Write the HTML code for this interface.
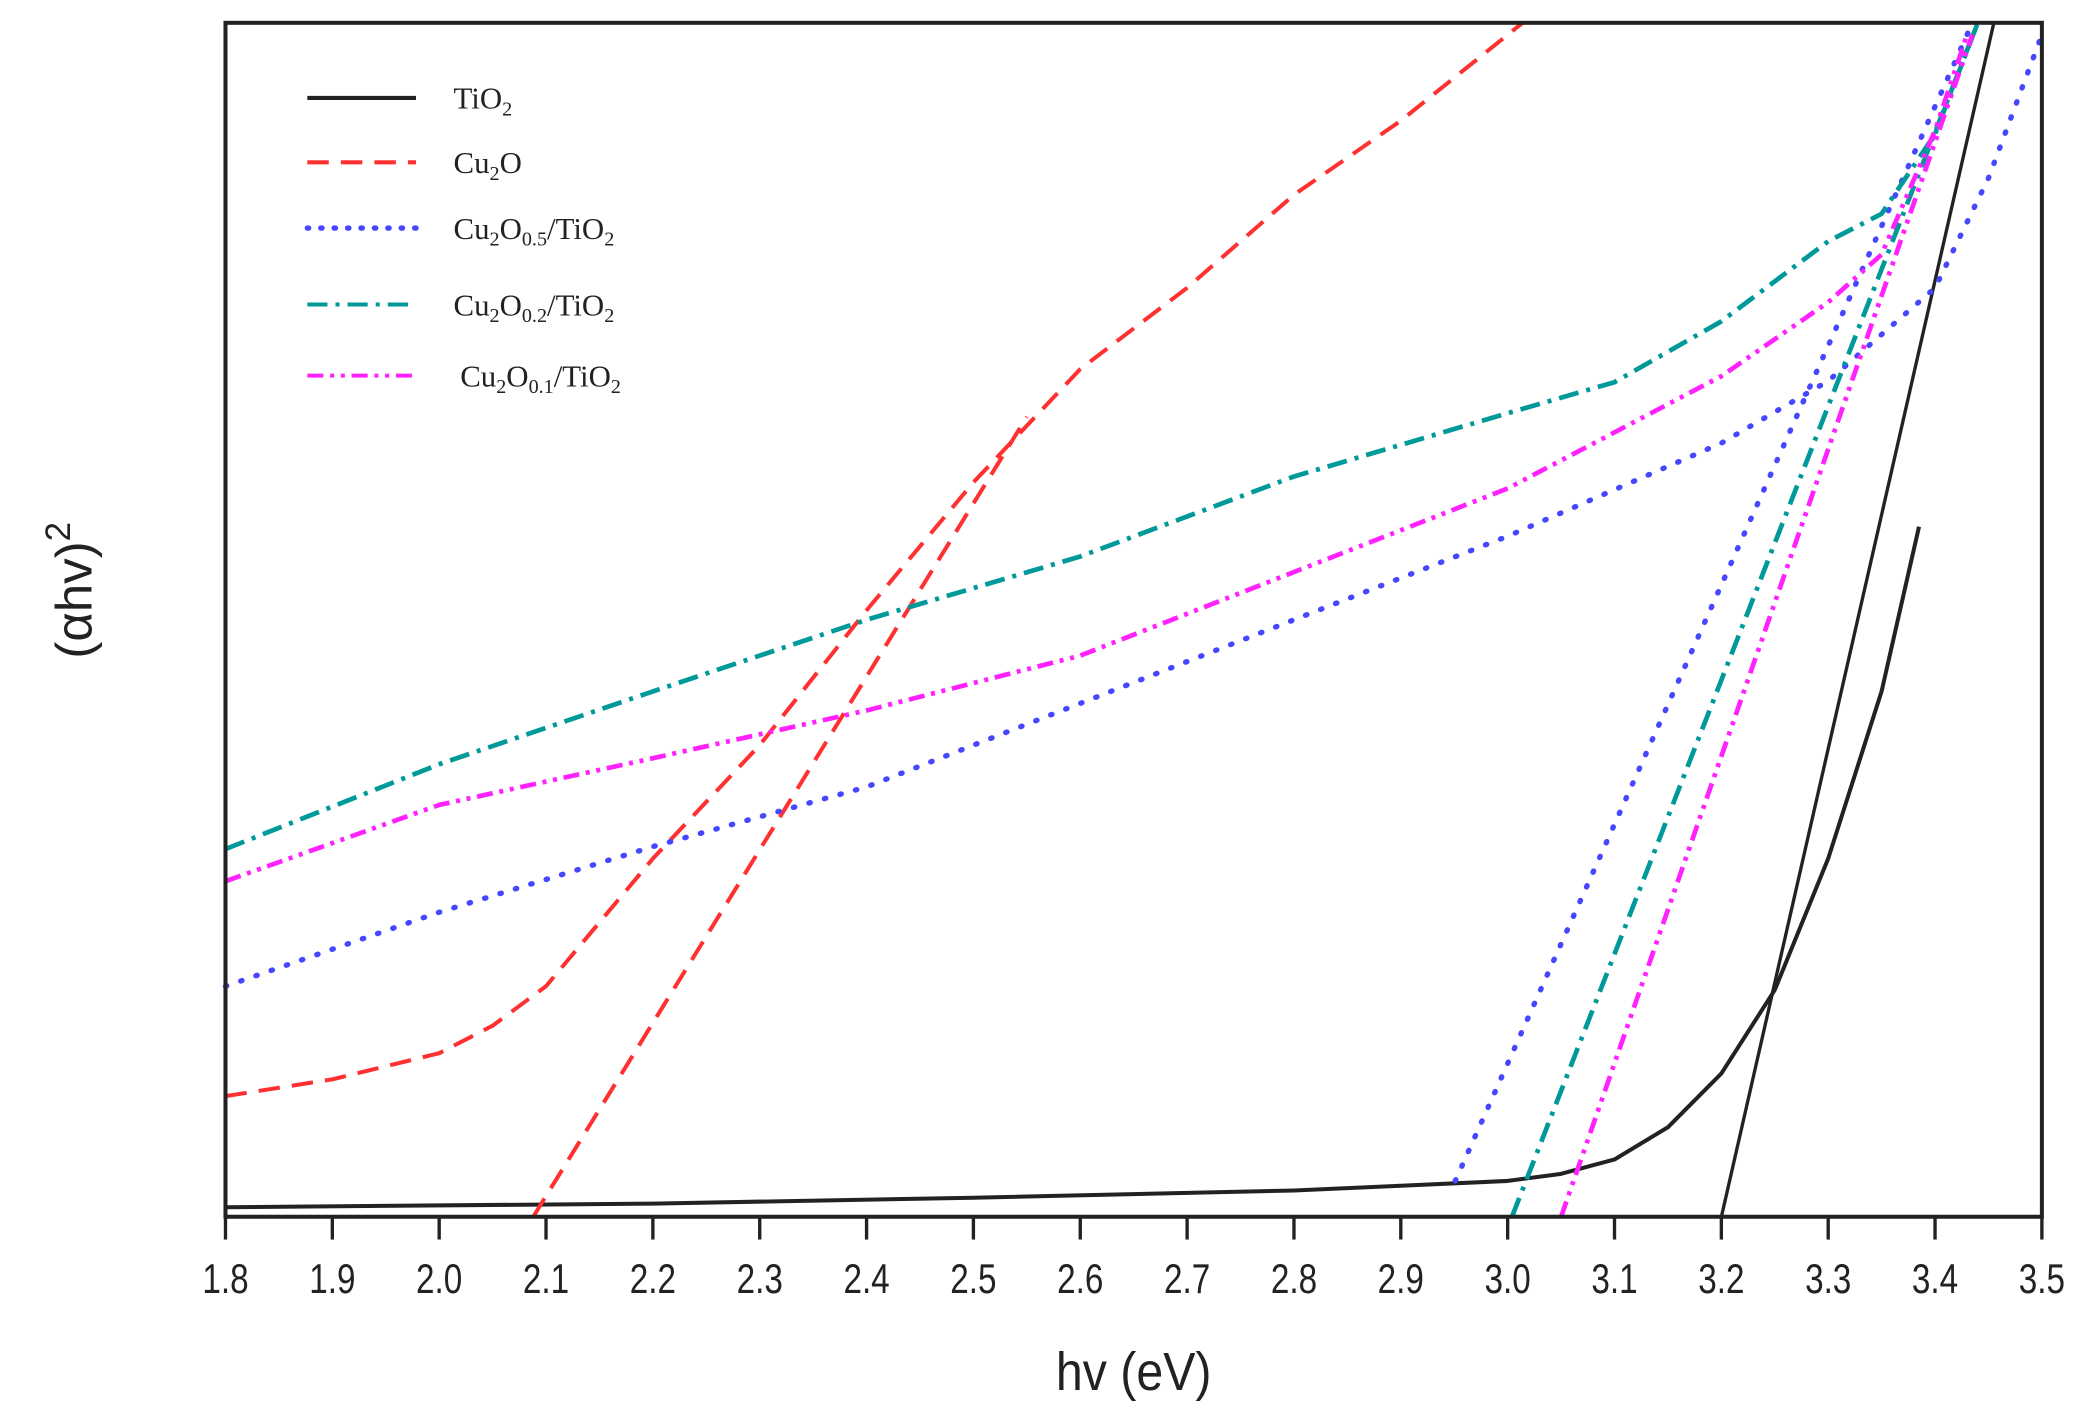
<!DOCTYPE html>
<html><head><meta charset="utf-8"><style>
html,body{margin:0;padding:0;background:#fff;}
svg{display:block;}
</style></head><body>
<svg id="chart" width="2097" height="1422" viewBox="0 0 1563 1060" xmlns="http://www.w3.org/2000/svg">
<rect x="0" y="0" width="1563" height="1060" fill="#fff"/>
<g id="marks"></g>
<rect x="168" y="17" width="1354" height="890" fill="none" stroke="#222" stroke-width="3"/>
<g id="xticks"></g>
<text x="845" y="1036" text-anchor="middle" font-family="Liberation Sans, sans-serif" font-size="40" transform="translate(845 0) scale(0.9 1) translate(-845 0)" fill="#222">hv (eV)</text>
<text transform="translate(68 440) rotate(-90)" text-anchor="middle" font-family="Liberation Sans, sans-serif" font-size="38" fill="#222">(αhv)<tspan dy="-16" font-size="26">2</tspan></text>
<g id="legend" font-family="Liberation Serif, serif" font-size="23" fill="#222"></g>
</svg>
<script>
const xTicks = [1.8,1.9,2.0,2.1,2.2,2.3,2.4,2.5,2.6,2.7,2.8,2.9,3.0,3.1,3.2,3.3,3.4,3.5];
const tioX = [1.8,2.2,2.5,2.8,2.9,3.0,3.05,3.1,3.15,3.2,3.25,3.3,3.35,3.385];
const tioY = [0.8,1.1,1.6,2.2,2.6,3.0,3.6,4.8,7.5,12,19,30,44,57.8];
const tioFitX = [3.2,3.455];
const tioFitY = [0,100];
const cuX = [1.8,1.9,2.0,2.05,2.1,2.2,2.3,2.4,2.5,2.6,2.7,2.8,2.9,3.014];
const cuY = [10.1,11.5,13.7,16,19.3,30,39.5,50.8,61.5,71,77.8,85.6,91.8,100];
const cuFitX = [2.088,2.55];
const cuFitY = [0,67];
const c05X = [1.8,2.0,2.2,2.4,2.6,2.8,3.0,3.2,3.3,3.4,3.45,3.5];
const c05Y = [19.3,25.5,31,36,43,50,57,64.8,70,77.8,87,99];
const c05FitX = [2.951,3.435];
const c05FitY = [3,100];
const c02X = [1.8,2.0,2.2,2.4,2.6,2.8,3.0,3.1,3.2,3.3,3.35,3.4,3.44];
const c02Y = [30.8,37.9,44,50,55.3,62,67.3,69.9,75,81.7,84,90.7,100];
const c02FitX = [3.004,3.44];
const c02FitY = [0,100];
const c01X = [1.8,2.0,2.2,2.4,2.6,2.8,3.0,3.2,3.3,3.35,3.4,3.43];
const c01Y = [28.1,34.5,38.4,42.4,47,54,61,70.4,76.6,80.6,91,99];
const c01FitX = [3.05,3.435];
const c01FitY = [0,99];

const NS='http://www.w3.org/2000/svg';
function sx(v){return 168+(v-1.8)*(1354/1.7);}
function sy(u){return 907-u*8.9;}
const marks=document.getElementById('marks');
function line(xs,ys,color,dash,name,w){
  const p=document.createElementNS(NS,'path');
  
  
  let d='';
  xs.forEach((x,i)=>{d+=(i?'L':'M')+sx(x).toFixed(1)+' '+sy(ys[i]).toFixed(1);});
  p.setAttribute('d',d);p.setAttribute('fill','none');p.setAttribute('stroke',color);
  p.setAttribute('stroke-width',w||3);p.setAttribute('stroke-linejoin','round');
  if(dash){p.setAttribute('stroke-dasharray',dash);}
  if(dash==='1,11'){p.setAttribute('stroke-linecap','round');p.setAttribute('stroke-width',4);}
  marks.appendChild(p);
}
line(tioX,tioY,'#222',null,'tio2-series',3);
line(tioFitX,tioFitY,'#222',null,'tio2-fit-line',2.5);
line(cuX,cuY,'#ff3030','16,9','cu2o-series');
line(cuFitX,cuFitY,'#ff3030','16,9','cu2o-fit-line');
line(c05X,c05Y,'#4646ff','1,11','cu2o05-tio2-series');
line(c05FitX,c05FitY,'#4646ff','1,11','cu2o05-tio2-fit-line');
line(c02X,c02Y,'#009999','15,6,3,6','cu2o02-tio2-series',3.5);
line(c02FitX,c02FitY,'#009999','15,6,3,6','cu2o02-tio2-fit-line',3.5);
line(c01X,c01Y,'#ff22ff','12,5,3,5,3,5','cu2o01-tio2-series',3.5);
line(c01FitX,c01FitY,'#ff22ff','12,5,3,5,3,5','cu2o01-tio2-fit-line',3.5);

const xt=document.getElementById('xticks');
xTicks.forEach(v=>{
  const t=document.createElementNS(NS,'line');
  
  
  t.setAttribute('x1',sx(v));t.setAttribute('x2',sx(v));t.setAttribute('y1',907);t.setAttribute('y2',924);
  t.setAttribute('stroke','#222');t.setAttribute('stroke-width',2.5);xt.appendChild(t);
  const l=document.createElementNS(NS,'text');
  
  
  l.setAttribute('x',sx(v));l.setAttribute('y',964);l.setAttribute('text-anchor','middle');
  l.setAttribute('font-family','Liberation Sans, sans-serif');l.setAttribute('font-size',31);
  l.setAttribute('fill','#222');
  l.setAttribute('transform','translate('+sx(v)+' 0) scale(0.8 1) translate('+(-sx(v))+' 0)');
  l.textContent=v.toFixed(1);xt.appendChild(l);
});

const leg=document.getElementById('legend');
const legItems=[
 ['#222',null,'TiO','2','','',73,338],
 ['#ff3030','16,9','Cu','2','O','',121,338],
 ['#4646ff','1,11','Cu','2','O','0.5',170,338],
 ['#009999','15,6,3,6','Cu','2','O','0.2',227,338],
 ['#ff22ff','12,5,3,5,3,5','Cu','2','O','0.1',280,343]
];
legItems.forEach(it=>{
  const [c,d,a,s,b,s2,y,tx]=it;
  const l=document.createElementNS(NS,'line');
  
  
  l.setAttribute('x1',229);l.setAttribute('x2',310);l.setAttribute('y1',y);l.setAttribute('y2',y);
  l.setAttribute('stroke',c);l.setAttribute('stroke-width',d==='1,11'?4:3);
  if(d){l.setAttribute('stroke-dasharray',d==='1,11'?'1,9':d);}
  if(d==='1,11'){l.setAttribute('stroke-linecap','round');}
  leg.appendChild(l);
  const t=document.createElementNS(NS,'text');
  
  
  t.setAttribute('x',tx);t.setAttribute('y',y+8);
  let h=a+'<tspan font-size="15" dy="5">'+s+'</tspan>';
  if(b){h+='<tspan dy="-5">'+b+'</tspan>';}
  if(s2){h+='<tspan font-size="15" dy="5">'+s2+'</tspan><tspan dy="-5">/TiO</tspan><tspan font-size="15" dy="5">2</tspan>';}
  t.innerHTML=h;leg.appendChild(t);
});
</script>
</body></html>
